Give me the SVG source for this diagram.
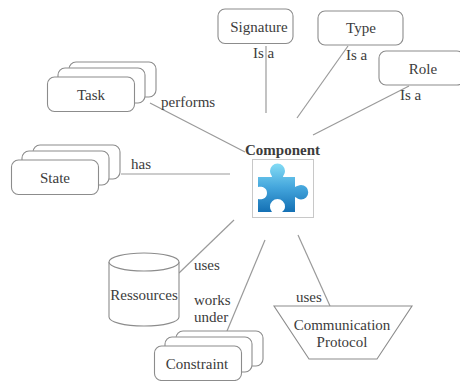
<svg xmlns="http://www.w3.org/2000/svg" width="460" height="381" viewBox="0 0 460 381">
<defs>
<linearGradient id="pz" x1="0" y1="0" x2="0" y2="1"><stop offset="0" stop-color="#84dcf5"/><stop offset="0.5" stop-color="#43a5dc"/><stop offset="1" stop-color="#1470b4"/></linearGradient>
</defs>
<style>
.b{fill:#fff;stroke:#8c8c8c;stroke-width:1.1}
.c{fill:none;stroke:#9a9a9a;stroke-width:1.2}
text{font-family:"Liberation Serif",serif;font-size:15px;fill:#3c3c3c}
.m{text-anchor:middle}
</style>
<rect width="460" height="381" fill="#fff"/>
<g id="connectors">
<path class="c" d="M266 46V113"/>
<path class="c" d="M348 46L297 118"/>
<path class="c" d="M409 86L313 135"/>
<path class="c" d="M150 103L245 152"/>
<path class="c" d="M121 174H230"/>
<path class="c" d="M179 273L234 220"/>
<path class="c" d="M227 331L265 240"/>
<path class="c" d="M330 306L298 235"/>
</g>
<g id="signature"><rect class="b" x="218" y="9" width="75" height="34.500" rx="7"/><text class="m" x="259" y="32">Signature</text></g>
<text x="253" y="58">Is a</text>
<g id="type"><rect class="b" x="318" y="11" width="85" height="34" rx="7"/><text class="m" x="361" y="33">Type</text></g>
<text x="346" y="60">Is a</text>
<g id="role"><rect class="b" x="379" y="51" width="85" height="34" rx="7"/><text class="m" x="423" y="74">Role</text></g>
<text x="400" y="100">Is a</text>
<g id="task">
<rect class="b" x="69" y="62" width="87" height="35" rx="7"/>
<rect class="b" x="58" y="68" width="87" height="35" rx="7"/>
<rect class="b" x="47.500" y="77" width="87" height="34.500" rx="7"/>
<text class="m" x="91" y="100">Task</text></g>
<text x="161" y="107">performs</text>
<g id="state">
<rect class="b" x="33" y="145" width="87" height="34" rx="7"/>
<rect class="b" x="22" y="151" width="87" height="34" rx="7"/>
<rect class="b" x="11.500" y="160" width="87" height="34.500" rx="7"/>
<text class="m" x="55" y="183">State</text></g>
<text x="131" y="169">has</text>
<g id="component">
<text x="245" y="155" style="font-weight:bold">Component</text>
<rect x="252.500" y="159.500" width="61" height="58" fill="#fff" stroke="#c8c8c8"/>
<path fill="url(#pz)" d="M258 177H272C272 175 270 174 270 171A7.500 7.500 0 0 1 285 171C285 174 283 175 283 177H295V187C297 186 299 185 301 185A7 7 0 0 1 301 199.500C299 199.500 297 198 295 197V212H282C284 210 285 209 285 206.500A7.500 7.500 0 0 0 270 206.500C270 209 271 210 272 212H258V199C261 200 267 199 267 193C267 187 261 186 258 187Z"/>
</g>
<g id="ressources">
<path class="b" d="M109 262V317C109 322 124 326 144 326S179 322 179 317V262"/>
<ellipse class="b" cx="144" cy="262" rx="35" ry="9"/>
<text class="m" x="144" y="300">Ressources</text></g>
<text x="194" y="270">uses</text>
<text x="194" y="305">works</text>
<text x="194" y="322">under</text>
<g id="constraint">
<rect class="b" x="176" y="331" width="87" height="35" rx="7"/>
<rect class="b" x="165" y="337" width="87" height="35" rx="7"/>
<rect class="b" x="154.500" y="346" width="87" height="34.500" rx="7"/>
<text class="m" x="197" y="369">Constraint</text></g>
<text x="296" y="302">uses</text>
<g id="protocol">
<path class="b" d="M274 306H412L377 359H309Z"/>
<text class="m" x="342" y="330">Communication</text>
<text class="m" x="342" y="347">Protocol</text></g>
</svg>
